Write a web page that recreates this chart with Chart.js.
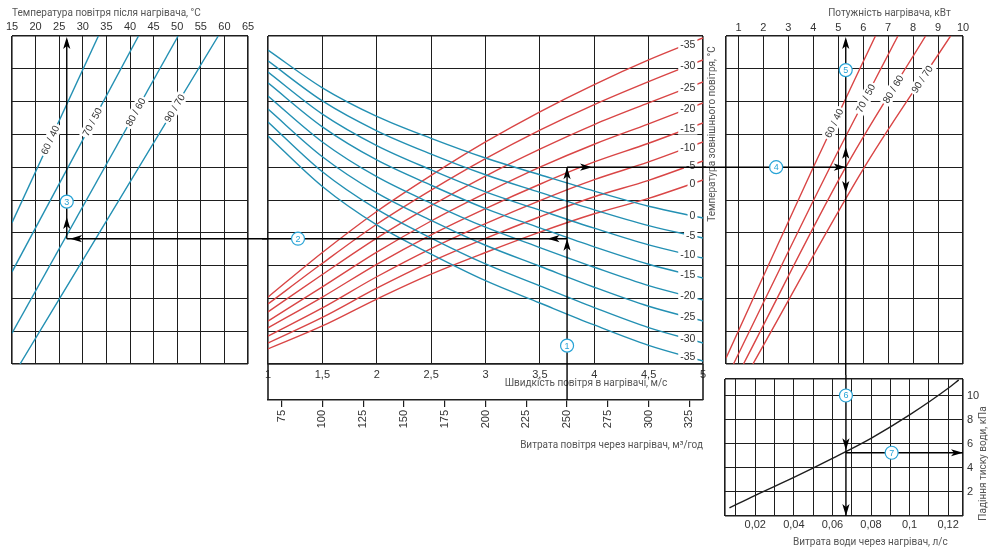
<!DOCTYPE html>
<html lang="uk"><head><meta charset="utf-8">
<title>Номограма калорифера</title>
<script src="https://cdn.jsdelivr.net/npm/chart.js@4.4.1/dist/chart.umd.min.js"></script>
<style>
html,body{margin:0;padding:0;background:#fff;}
#wrap{position:relative;width:1000px;height:555px;overflow:hidden;background:#fff;}
#wrap canvas{position:absolute;}
</style></head><body>
<div id="wrap">
<canvas id="cA" width="268" height="370" style="left:0px;top:0px"></canvas>
<canvas id="cB" width="444" height="460" style="left:262px;top:0px"></canvas>
<canvas id="cC" width="297" height="375" style="left:703px;top:0px"></canvas>
<canvas id="cD" width="297" height="180" style="left:703px;top:375px"></canvas>
</div>
<script>
// ================= DATA =================
const gridU = [0,1,2,3,4,5,6,7,8,9,10];
const uRange = [0,10];

// left panel: air temperature after heater
const tempAfterTicks = [15,20,25,30,35,40,45,50,55,60,65];
const tempAfterRange = [15,65];
const heatLabels = ['60 / 40','70 / 50','80 / 60','90 / 70'];
const heatT = [[15.0,33.3],[15.0,41.8],[15.0,50.2],[16.7,58.7]];
const heatU = [[4.31,10],[2.81,10],[0.94,10],[0,10]];
const heatLabelU = [6.83,7.38,7.68,7.8];

// middle panel: air speed / air flow
const speedTicks = [1,1.5,2,2.5,3,3.5,4,4.5,5];
const speedRange = [1,5];
const flowTicks = [75,100,125,150,175,200,225,250,275,300,325];
const airFlowPerSpeed = 66.667;
const speedPts = [1,1.5,2,2.5,3,3.5,4,4.5,5];
const blueLabels = ['0','-5','-10','-15','-20','-25','-30','-35'];
const blueU = [
 [9.57,8.42,7.55,6.88,6.28,5.77,5.27,4.81,4.45],
 [9.24,8.02,7.11,6.40,5.77,5.23,4.70,4.22,3.84],
 [8.90,7.62,6.66,5.92,5.25,4.69,4.14,3.63,3.23],
 [8.57,7.23,6.22,5.45,4.74,4.15,3.57,3.04,2.62],
 [8.17,6.77,5.71,4.90,4.17,3.55,2.95,2.39,1.95],
 [7.77,6.32,5.22,4.38,3.62,2.98,2.34,1.76,1.31],
 [7.38,5.86,4.72,3.84,3.05,2.38,1.72,1.11,0.64],
 [6.95,5.41,4.24,3.35,2.54,1.86,1.19,0.57,0.09]
];
const redLabels = ['-35','-30','-25','-20','-15','-10','-5','0'];
const redU = [
 [2.04,3.40,4.65,5.75,6.77,7.69,8.52,9.27,9.94],
 [1.83,3.07,4.26,5.30,6.26,7.13,7.91,8.61,9.27],
 [1.59,2.73,3.84,4.83,5.73,6.55,7.30,7.96,8.60],
 [1.31,2.35,3.41,4.36,5.21,6.00,6.70,7.32,7.96],
 [1.10,2.04,3.04,3.94,4.74,5.48,6.16,6.73,7.35],
 [0.85,1.71,2.66,3.52,4.28,4.98,5.62,6.16,6.77],
 [0.64,1.42,2.31,3.12,3.83,4.49,5.10,5.60,6.19],
 [0.46,1.16,1.98,2.74,3.40,4.02,4.58,5.05,5.61]
];

// top-right panel: heater power
const powerTicks = [1,2,3,4,5,6,7,8,9,10];
const powerRange = [0.5,10];
const powerKW = [[0.5,4.0,6.49],[0.8,4.67,7.39],[1.2,5.3,8.5],[1.58,6.05,9.5]];
const powerU = [[0.18,6,10],[0,6,10],[0,6,10],[0,6,10]];
const powerLabelU = [7.34,8.1,8.38,8.68];

// bottom-right panel: water flow / pressure drop
const waterTicks = [0.01,0.02,0.03,0.04,0.05,0.06,0.07,0.08,0.09,0.1,0.11,0.12];
const waterLabelTicks = [0.02,0.04,0.06,0.08,0.1,0.12];
const waterRange = [0.0043,0.1277];
const pressureTicks = [2,4,6,8,10];
const pressureRange = [0,11.37];
const waterQ = [0.0066,0.02,0.04,0.06,0.08,0.1,0.12,0.1255];
const waterDP = [0.67,1.72,3.2,4.78,6.45,8.39,10.6,11.3];

// worked example
const pathSpeed = 3.75, pathUBlue = 3.82, pathTAfter = 26.6, pathURed = 6.0;
const pathPower = 5.3, pathWaterQ = 0.067, pathDP = 5.25;

// ================= STYLE =================
const NUM = '"Liberation Sans", Arial, sans-serif';
const TXT = 'Roboto, "Open Sans", sans-serif';
const BLUE = '#2390b3', RED = '#d94545', GRID = '#1e1e1e', MARK = '#27a3d6', TITLE = '#555', TICK = '#333';

const setTicks = arr => scale => { scale.ticks = arr.map(v => ({value: v})); };
const fixH = h => s => { s.height = h; s.paddingLeft = s.paddingRight = s.paddingTop = s.paddingBottom = 0; };
const fixW = w => s => { s.width = w; s.paddingLeft = s.paddingRight = s.paddingTop = s.paddingBottom = 0; };
const edgeW = c => (c.index === 0 || c.index === c.scale.ticks.length - 1) ? 1.6 : 1;
const grid = extra => Object.assign({color: GRID, lineWidth: edgeW, drawTicks: false}, extra || {});
const comma = v => String(Math.round(v * 1000) / 1000).replace('.', ',');
const titleFont = {size: 10, family: TXT};

function interp(xs, ys, x) {
  for (let i = 0; i < xs.length - 1; i++) {
    if (x >= xs[i] && x <= xs[i + 1]) { const t = (x - xs[i]) / (xs[i + 1] - xs[i]); return ys[i] + t * (ys[i + 1] - ys[i]); }
  }
  return x < xs[0] ? ys[0] : ys[ys.length - 1];
}
function baseOptions(padding, scales) {
  return {responsive: false, animation: false, devicePixelRatio: 1, events: [],
    layout: {padding, autoPadding: false},
    plugins: {legend: {display: false}, tooltip: {enabled: false}, title: {display: false}},
    scales};
}
function arrow(ctx, x, y, dir) {
  const L = 12, W = 3.6; ctx.beginPath();
  if (dir === 'up') { ctx.moveTo(x, y); ctx.lineTo(x - W, y + L); ctx.lineTo(x, y + L - 3); ctx.lineTo(x + W, y + L); }
  else if (dir === 'down') { ctx.moveTo(x, y); ctx.lineTo(x - W, y - L); ctx.lineTo(x, y - L + 3); ctx.lineTo(x + W, y - L); }
  else if (dir === 'left') { ctx.moveTo(x, y); ctx.lineTo(x + L, y - W); ctx.lineTo(x + L - 3, y); ctx.lineTo(x + L, y + W); }
  else { ctx.moveTo(x, y); ctx.lineTo(x - L, y - W); ctx.lineTo(x - L + 3, y); ctx.lineTo(x - L, y + W); }
  ctx.closePath(); ctx.fillStyle = '#000'; ctx.fill();
}
function seg(ctx, x1, y1, x2, y2) {
  ctx.beginPath(); ctx.moveTo(x1, y1); ctx.lineTo(x2, y2); ctx.strokeStyle = '#000'; ctx.lineWidth = 1.4; ctx.stroke();
}
function marker(ctx, x, y, n) {
  ctx.beginPath(); ctx.arc(x, y, 6.5, 0, Math.PI * 2); ctx.fillStyle = '#fff'; ctx.fill();
  ctx.lineWidth = 1.2; ctx.strokeStyle = MARK; ctx.stroke();
  ctx.fillStyle = MARK; ctx.font = '9px ' + NUM; ctx.textAlign = 'center'; ctx.textBaseline = 'middle';
  ctx.fillText(String(n), x, y + 0.5);
}
function inlineLabel(ctx, text, x, y, ang) {
  ctx.save(); ctx.translate(x, y); ctx.rotate(ang);
  ctx.font = '10px ' + NUM; const w = ctx.measureText(text).width;
  ctx.fillStyle = '#fff'; ctx.fillRect(-w / 2 - 2, -6, w + 4, 12);
  ctx.fillStyle = TICK; ctx.textAlign = 'center'; ctx.textBaseline = 'middle'; ctx.fillText(text, 0, 0.5);
  ctx.restore();
}
const lineDs = (xs, ys, color) => ({data: xs.map((x, j) => ({x, y: ys[j]})), showLine: true, borderColor: color,
  borderWidth: 1.4, pointRadius: 0, tension: 0.4, cubicInterpolationMode: 'monotone', fill: false});

// ================= LEFT PANEL =================
new Chart(document.getElementById('cA'), {
  type: 'scatter',
  data: {datasets: heatLabels.map((l, i) => lineDs(heatT[i], heatU[i], BLUE))},
  options: baseOptions({left: 12, right: 20, top: 0, bottom: 6}, {
    x: {type: 'linear', position: 'top', min: tempAfterRange[0], max: tempAfterRange[1],
      afterBuildTicks: setTicks(tempAfterTicks), afterFit: fixH(36),
      grid: grid(), border: {display: false},
      ticks: {autoSkip: false, maxRotation: 0, padding: 2, font: {size: 11, family: NUM}, color: TICK},
      title: {display: true, text: 'Температура повітря після нагрівача, °С', align: 'start',
        padding: {top: 7, bottom: 0}, font: titleFont, color: TITLE}},
    y: {type: 'linear', min: uRange[0], max: uRange[1], afterBuildTicks: setTicks(gridU),
      afterFit: fixW(0), grid: grid(), border: {display: false}, ticks: {display: false}}
  }),
  plugins: [{id: 'labA', afterDatasetsDraw(chart) {
    const {ctx} = chart, x = chart.scales.x, y = chart.scales.y;
    heatLabels.forEach((lab, i) => {
      const u = heatLabelU[i], t = interp(heatU[i], heatT[i], u);
      const ang = Math.atan2(y.getPixelForValue(heatU[i][1]) - y.getPixelForValue(heatU[i][0]),
                             x.getPixelForValue(heatT[i][1]) - x.getPixelForValue(heatT[i][0]));
      inlineLabel(ctx, lab, x.getPixelForValue(t), y.getPixelForValue(u), ang);
    });
  }, afterDraw(chart) {
    const {ctx} = chart, x = chart.scales.x, y = chart.scales.y;
    const px = x.getPixelForValue(pathTAfter), pyB = y.getPixelForValue(pathUBlue), pyT = y.getPixelForValue(uRange[1]);
    ctx.save();
    seg(ctx, px, pyB, px, pyT + 4); seg(ctx, px, pyB, chart.width, pyB);
    arrow(ctx, px, pyT + 1, 'up'); arrow(ctx, px, y.getPixelForValue(4.48), 'up');
    arrow(ctx, x.getPixelForValue(27.3), pyB, 'left');
    marker(ctx, px, y.getPixelForValue(4.95), 3);
    ctx.restore();
  }}]
});

// ================= MIDDLE PANEL =================
new Chart(document.getElementById('cB'), {
  type: 'scatter',
  data: {datasets: [
    ...blueU.map(u => lineDs(speedPts, u, BLUE)),
    ...redU.map(u => lineDs(speedPts, u, RED))
  ]},
  options: baseOptions({left: 6, right: 3, top: 36, bottom: 0}, {
    x: {type: 'linear', axis: 'x', position: 'bottom', weight: 0, min: speedRange[0], max: speedRange[1],
      afterBuildTicks: setTicks(speedTicks), afterFit: fixH(36),
      grid: grid(), border: {display: true, color: GRID, width: 1.6},
      ticks: {autoSkip: false, maxRotation: 0, padding: 4, font: {size: 11, family: NUM}, color: TICK, callback: v => comma(v)},
      title: {display: true, text: 'Швидкість повітря в нагрівачі, м/с\u2003\u2003\u2003\u2002', align: 'end',
        padding: {top: 0, bottom: 11}, font: titleFont, color: TITLE}},
    x2: {type: 'linear', axis: 'x', position: 'bottom', weight: 1,
      min: speedRange[0] * airFlowPerSpeed, max: speedRange[1] * airFlowPerSpeed,
      afterBuildTicks: setTicks(flowTicks), afterFit: fixH(60),
      grid: {drawOnChartArea: false, drawTicks: true, tickLength: 7, color: GRID, lineWidth: 1.2},
      border: {display: true, color: GRID, width: 1.6},
      ticks: {autoSkip: false, minRotation: 90, maxRotation: 90, padding: 3, font: {size: 11, family: NUM}, color: TICK},
      title: {display: true, text: 'Витрата повітря через нагрівач, м³/год', align: 'end',
        padding: {top: 0, bottom: 9}, font: titleFont, color: TITLE}},
    y: {type: 'linear', min: uRange[0], max: uRange[1], afterBuildTicks: setTicks(gridU),
      afterFit: fixW(0), grid: grid(), border: {display: false}, ticks: {display: false}}
  }),
  plugins: [{id: 'labB', afterDatasetsDraw(chart) {
    const {ctx} = chart, x = chart.scales.x, y = chart.scales.y;
    const right = x.getPixelForValue(4.93);
    ctx.save(); ctx.font = '10.5px ' + NUM; ctx.textAlign = 'center'; ctx.textBaseline = 'middle';
    const put = (lab, us) => {
      const w = ctx.measureText(lab).width, cx = right - w / 2;
      const cy = y.getPixelForValue(interp(speedPts, us, x.getValueForPixel(cx)));
      ctx.fillStyle = '#fff'; ctx.fillRect(cx - w / 2 - 2, cy - 6, w + 4, 12);
      ctx.fillStyle = TICK; ctx.fillText(lab, cx, cy + 0.5);
    };
    blueLabels.forEach((l, i) => put(l, blueU[i]));
    redLabels.forEach((l, i) => put(l, redU[i]));
    ctx.restore();
  }, afterDraw(chart) {
    const {ctx} = chart, x = chart.scales.x, y = chart.scales.y, x2 = chart.scales.x2, ca = chart.chartArea;
    ctx.save();
    ctx.strokeStyle = GRID; ctx.lineWidth = 1.6;
    [ca.left, ca.right].forEach(px => { ctx.beginPath(); ctx.moveTo(px, ca.bottom); ctx.lineTo(px, x2.top); ctx.stroke(); });
    const px = x.getPixelForValue(pathSpeed), pyB = y.getPixelForValue(pathUBlue), pyR = y.getPixelForValue(pathURed);
    seg(ctx, px, pyR, px, x2.top); seg(ctx, 0, pyB, px, pyB); seg(ctx, px, pyR, chart.width, pyR);
    arrow(ctx, px, pyR, 'up'); arrow(ctx, px, pyB, 'up');
    arrow(ctx, x.getPixelForValue(3.57), pyB, 'left'); arrow(ctx, x.getPixelForValue(3.98), pyR, 'right');
    marker(ctx, px, y.getPixelForValue(0.56), 1); marker(ctx, x.getPixelForValue(1.276), pyB, 2);
    ctx.restore();
  }}]
});

// ================= POWER PANEL =================
new Chart(document.getElementById('cC'), {
  type: 'scatter',
  data: {datasets: powerKW.map((k, i) => lineDs(k, powerU[i], RED))},
  options: baseOptions({left: 0, right: 37, top: 0, bottom: 11}, {
    x: {type: 'linear', position: 'top', min: powerRange[0], max: powerRange[1],
      afterBuildTicks: setTicks([powerRange[0], ...powerTicks]), afterFit: fixH(36),
      grid: grid(), border: {display: false},
      ticks: {autoSkip: false, maxRotation: 0, padding: 1, font: {size: 11, family: NUM}, color: TICK,
        callback: v => powerTicks.includes(v) ? String(v) : ''},
      title: {display: true, text: 'Потужність нагрівача, кВт\u2003\u2009', align: 'end',
        padding: {top: 7, bottom: 0}, font: titleFont, color: TITLE}},
    y: {type: 'linear', position: 'left', min: uRange[0], max: uRange[1], afterBuildTicks: setTicks(gridU),
      afterFit: fixW(23), grid: grid(), border: {display: false}, ticks: {display: false},
      title: {display: true, text: 'Температура зовнішнього повітря, °С\u2003', align: 'end',
        padding: {top: 3, bottom: 0}, font: titleFont, color: TITLE}}
  }),
  plugins: [{id: 'labC', afterDatasetsDraw(chart) {
    const {ctx} = chart, x = chart.scales.x, y = chart.scales.y;
    heatLabels.forEach((lab, i) => {
      const u = powerLabelU[i], k = interp(powerU[i], powerKW[i], u);
      const j = u > powerU[i][1] ? 1 : 0;
      const ang = Math.atan2(y.getPixelForValue(powerU[i][j + 1]) - y.getPixelForValue(powerU[i][j]),
                             x.getPixelForValue(powerKW[i][j + 1]) - x.getPixelForValue(powerKW[i][j]));
      inlineLabel(ctx, lab, x.getPixelForValue(k), y.getPixelForValue(u), ang);
    });
  }, afterDraw(chart) {
    const {ctx} = chart, x = chart.scales.x, y = chart.scales.y;
    const px = x.getPixelForValue(pathPower), pyR = y.getPixelForValue(pathURed), pyT = y.getPixelForValue(uRange[1]);
    ctx.save();
    seg(ctx, 0, pyR, px, pyR); seg(ctx, px, pyT + 4, px, chart.height);
    arrow(ctx, px, pyR, 'right'); arrow(ctx, px, pyT + 1, 'up');
    arrow(ctx, px, y.getPixelForValue(6.62), 'up'); arrow(ctx, px, y.getPixelForValue(5.21), 'down');
    marker(ctx, x.getPixelForValue(2.51), pyR, 4); marker(ctx, px, y.getPixelForValue(8.96), 5);
    ctx.restore();
  }}]
});

// ================= WATER PANEL =================
new Chart(document.getElementById('cD'), {
  type: 'scatter',
  data: {datasets: [lineDs(waterQ, waterDP, '#1e1e1e')]},
  options: baseOptions({left: 22, right: 0, top: 4, bottom: 0}, {
    x: {type: 'linear', position: 'bottom', min: waterRange[0], max: waterRange[1],
      afterBuildTicks: setTicks([waterRange[0], ...waterTicks, waterRange[1]]), afterFit: fixH(39),
      grid: grid(), border: {display: false},
      ticks: {autoSkip: false, maxRotation: 0, padding: 2, font: {size: 11, family: NUM}, color: TICK,
        callback: v => waterLabelTicks.some(t => Math.abs(t - v) < 1e-6) ? comma(v) : ''},
      title: {display: true, text: 'Витрата води через нагрівач, л/с\u2003\u2002', align: 'end',
        padding: {top: 0, bottom: 7}, font: titleFont, color: TITLE}},
    y: {type: 'linear', position: 'right', min: pressureRange[0], max: pressureRange[1],
      afterBuildTicks: setTicks([pressureRange[0], ...pressureTicks, pressureRange[1]]), afterFit: fixW(37),
      grid: grid(), border: {display: false},
      ticks: {autoSkip: false, padding: 4, font: {size: 11, family: NUM}, color: TICK,
        callback: v => pressureTicks.includes(v) ? String(v) : ''}}
  }),
  plugins: [{id: 'pathD', afterDraw(chart) {
    const {ctx} = chart, x = chart.scales.x, y = chart.scales.y, ca = chart.chartArea;
    ctx.save();
    const px = x.getPixelForValue(pathWaterQ), py = y.getPixelForValue(pathDP);
    const pyB = y.getPixelForValue(pressureRange[0]), pxR = x.getPixelForValue(waterRange[1]);
    seg(ctx, px, 0, px, pyB); seg(ctx, px, py, pxR, py);
    arrow(ctx, px, y.getPixelForValue(5.45), 'down'); arrow(ctx, px, pyB, 'down'); arrow(ctx, pxR, py, 'right');
    marker(ctx, px, y.getPixelForValue(10.0), 6); marker(ctx, x.getPixelForValue(0.0907), py, 7);
    ctx.translate(y.left + 20, (ca.top + ca.bottom) / 2 + 16); ctx.rotate(-Math.PI / 2);
    ctx.font = '10px ' + TXT; ctx.fillStyle = TITLE; ctx.textAlign = 'center'; ctx.textBaseline = 'middle';
    ctx.fillText('Падіння тиску води, кПа', 0, 0);
    ctx.restore();
  }}]
});
</script>
</body></html>
